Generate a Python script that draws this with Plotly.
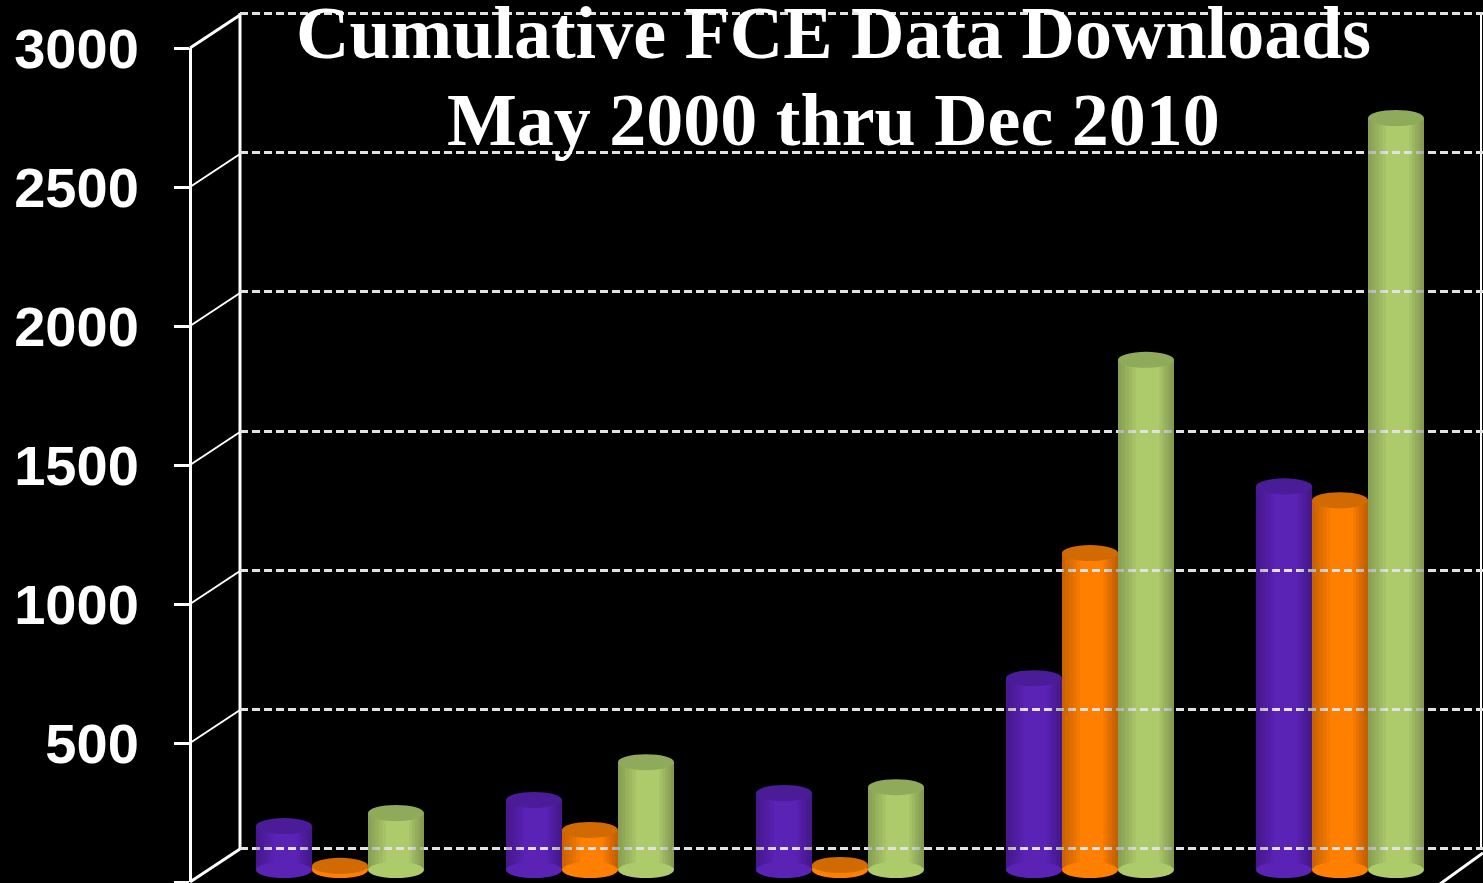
import plotly.graph_objects as go

# ---- data ----
categories = ["Group 1", "Group 2", "Group 3", "Group 4", "Group 5"]
series_names = ["Series A", "Series B", "Series C"]
series_a = [158, 252, 277, 690, 1380]
series_b = [15, 144, 18, 1140, 1330]
series_c = [205, 388, 298, 1835, 2705]
tick_values = [0, 500, 1000, 1500, 2000, 2500, 3000]
tick_labels = ["0", "500", "1000", "1500", "2000", "2500", "3000"]

body_colors = ["#5B22B6", "#FF7F00", "#AECB6C"]
top_colors = ["#4A1C98", "#D26A04", "#8FAA5A"]

W, H = 1483, 883
PX_PER_UNIT = 834 / 3000.0

# pixel layout of the pseudo-3D frame
FRONT_X, BACK_X, RIGHT_X = 190, 240, 1481
FRONT_ZERO, FRONT_TOP = 882, 48
BACK_ZERO, BACK_TOP = 849, 13
BAR_BASE = 870
PAD = 5  # extra px around the back-wall axis so edge gridlines are drawn

bargap = 0.328
bar_w = (1 - bargap) / 3.0

fig = go.Figure()
all_series = [series_a, series_b, series_c]
for name, vals, col in zip(series_names, all_series, body_colors):
    fig.add_trace(go.Bar(x=categories, y=vals, name=name,
                         marker=dict(color=col, line=dict(width=0)),
                         xaxis="x", yaxis="y"))

# dummy traces so the extra axes are drawn
fig.add_trace(go.Scatter(x=[], y=[], xaxis="x", yaxis="y2", showlegend=False))
fig.add_trace(go.Scatter(x=[], y=[], xaxis="x", yaxis="y3", showlegend=False))

# bar axis range so that baseline sits at BAR_BASE
r0 = -(H - BAR_BASE) / PX_PER_UNIT
r1 = r0 + H / PX_PER_UNIT

shapes = []
ell_half = 8 / PX_PER_UNIT
n_steps = 5
for s, vals in enumerate(all_series):
    off = (s - 1) * bar_w
    for i, v in enumerate(vals):
        cx = i + off
        xl, xr = cx - bar_w / 2, cx + bar_w / 2
        # soft cylinder shading (stacked translucent strips)
        for k in range(1, n_steps + 1):
            wl = 0.32 * bar_w * k / n_steps
            wr = 0.26 * bar_w * k / n_steps
            shapes.append(dict(type="rect", xref="x", yref="y", x0=xl, x1=xl + wl,
                               y0=0, y1=v, fillcolor="rgba(0,0,0,0.045)",
                               line=dict(width=0), layer="above"))
            shapes.append(dict(type="rect", xref="x", yref="y", x0=xr - wr, x1=xr,
                               y0=0, y1=v, fillcolor="rgba(0,0,0,0.05)",
                               line=dict(width=0), layer="above"))
        shapes.append(dict(type="circle", xref="x", yref="y", x0=xl, x1=xr,
                           y0=-ell_half, y1=ell_half,
                           fillcolor=body_colors[s], line=dict(width=0), layer="above"))
        shapes.append(dict(type="circle", xref="x", yref="y", x0=xl, x1=xr,
                           y0=v - ell_half, y1=v + ell_half,
                           fillcolor=top_colors[s], line=dict(width=0), layer="above"))


def py(pix):
    return (H - pix) / H


for t in tick_values:
    fy = FRONT_ZERO - t * PX_PER_UNIT
    by = BACK_ZERO - t * PX_PER_UNIT
    w = 3 if t in (0, 3000) else 2
    shapes.append(dict(type="line", xref="paper", yref="paper",
                       x0=FRONT_X / W, x1=BACK_X / W, y0=py(fy), y1=py(by),
                       line=dict(color="white", width=w)))
# floor right edge
shapes.append(dict(type="line", xref="paper", yref="paper",
                   x0=1440 / W, x1=1.0, y0=py(884), y1=py(853),
                   line=dict(color="white", width=3)))
# back wall left and right edges
for xe in (BACK_X, RIGHT_X):
    shapes.append(dict(type="line", xref="paper", yref="paper",
                       x0=xe / W, x1=xe / W, y0=py(BACK_ZERO), y1=py(BACK_TOP),
                       line=dict(color="white", width=3 if xe == BACK_X else 2),
                       layer="below"))

tick_font = dict(family="Liberation Sans, Arial, sans-serif", size=56,
                 color="white", weight="bold")

pad_units = PAD / PX_PER_UNIT
fig.update_layout(
    width=W, height=H,
    margin=dict(l=0, r=0, t=0, b=0, autoexpand=False),
    paper_bgcolor="black", plot_bgcolor="rgba(0,0,0,0)",
    showlegend=False,
    barmode="group", bargap=bargap, bargroupgap=0,
    shapes=shapes,
    xaxis=dict(type="category", categoryorder="array", categoryarray=categories,
               domain=[BACK_X / W, 1], range=[-0.4, -0.4 + (W - BACK_X) / 250.0],
               showticklabels=False, showgrid=False, zeroline=False, showline=False,
               anchor="y"),
    yaxis=dict(domain=[0, 1], range=[r0, r1], showgrid=False, zeroline=False,
               showticklabels=False, showline=False, anchor="x"),
    yaxis2=dict(domain=[py(BACK_ZERO + PAD), py(BACK_TOP - PAD)],
                range=[-pad_units, 3000 + pad_units], anchor="x",
                tickvals=tick_values, showticklabels=False, ticks="",
                showgrid=True, gridcolor="#e2e2e2", griddash="8px,4px", gridwidth=2.5,
                zeroline=False, showline=False),
    yaxis3=dict(domain=[py(FRONT_ZERO), py(FRONT_TOP)], range=[0, 3000],
                anchor="free", position=FRONT_X / W, side="left",
                tickvals=tick_values, ticktext=tick_labels, tickfont=tick_font,
                ticks="outside", ticklen=15, tickwidth=3, tickcolor="white",
                ticklabelstandoff=24,
                showgrid=False, zeroline=False, showline=True,
                linecolor="white", linewidth=3),
)

title_font = dict(family="Liberation Serif, Times New Roman, serif", size=74, color="white")
fig.add_annotation(text="<b>Cumulative FCE Data Downloads</b>", xref="paper", yref="paper",
                   x=833 / W, y=py(33), xanchor="center", yanchor="middle",
                   showarrow=False, font=title_font)
fig.add_annotation(text="<b>May 2000 thru Dec 2010</b>", xref="paper", yref="paper",
                   x=833 / W, y=py(120), xanchor="center", yanchor="middle",
                   showarrow=False, font=title_font)

fig.write_html("out.html", post_script="document.body.style.margin='0';",
               config={"displayModeBar": False})
